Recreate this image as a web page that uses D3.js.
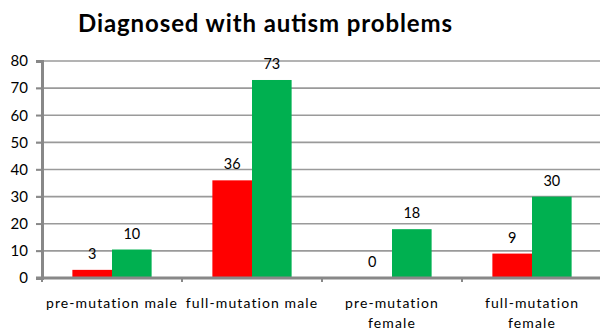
<!DOCTYPE html>
<html>
<head>
<meta charset="utf-8">
<script src="https://cdn.jsdelivr.net/npm/d3@7/dist/d3.min.js"></script>
<style>
  html, body { margin: 0; padding: 0; background: #fff; }
  svg { display: block; font-family: Lato, "Open Sans", sans-serif; }
</style>
</head>
<body>
<svg id="chart" width="600" height="332"></svg>
<script>
const title = "Diagnosed with autism problems";
const categories = ["pre-mutation male", "full-mutation male", "pre-mutation female", "full-mutation female"];
const categoryLines = [["pre-mutation male"], ["full-mutation male"], ["pre-mutation", "female"], ["full-mutation", "female"]];
const seriesRed = [3, 36, 0, 9];
const seriesGreen = [10.5, 73, 18, 30];
const labelsRed = ["3", "36", "0", "9"];
const labelsGreen = ["10", "73", "18", "30"];
const yTicks = [0, 10, 20, 30, 40, 50, 60, 70, 80];

const svg = d3.select("#chart");
const plot = { left: 42, right: 602, top: 61, bottom: 278 };

const x = d3.scaleBand().domain(categories).range([plot.left, plot.right]).paddingInner(0).paddingOuter(0);
const y = d3.scaleLinear().domain([0, 80]).range([plot.bottom, plot.top]);
const barW = x.bandwidth() * 0.283;

// title
svg.append("text")
  .attr("x", 265).attr("y", 32)
  .attr("text-anchor", "middle")
  .attr("font-size", 24).attr("font-weight", "bold")
  .attr("textLength", 374).attr("lengthAdjust", "spacing")
  .attr("fill", "#000")
  .text(title);

// gridlines
svg.append("g").selectAll("line").data(yTicks.filter(d => d > 0)).join("line")
  .attr("x1", plot.left - 6).attr("x2", 600)
  .attr("y1", d => y(d)).attr("y2", d => y(d))
  .attr("stroke", "#9a9a9a").attr("stroke-width", 1.6);

// y axis
const yAxis = svg.append("g").attr("transform", `translate(${plot.left},0)`)
  .call(d3.axisLeft(y).tickValues(yTicks).tickSize(6).tickPadding(8));
yAxis.select(".domain").attr("stroke", "#888").attr("stroke-width", 3);
yAxis.selectAll(".tick line").attr("stroke", "#888").attr("stroke-width", 1.6);
yAxis.selectAll(".tick text").attr("font-size", 15).attr("fill", "#000")
  .attr("font-family", "Lato, 'Open Sans', sans-serif");

// bars
const g = svg.append("g");
g.selectAll("rect.red").data(categories).join("rect").attr("class", "red")
  .attr("x", d => x(d) + x.bandwidth() / 2 - barW)
  .attr("width", barW)
  .attr("y", (d, i) => y(seriesRed[i]))
  .attr("height", (d, i) => y(0) - y(seriesRed[i]))
  .attr("fill", "#ff0000");
g.selectAll("rect.green").data(categories).join("rect").attr("class", "green")
  .attr("x", d => x(d) + x.bandwidth() / 2)
  .attr("width", barW)
  .attr("y", (d, i) => y(seriesGreen[i]))
  .attr("height", (d, i) => y(0) - y(seriesGreen[i]))
  .attr("fill", "#00b050");

// x axis
const xAxis = svg.append("g").attr("transform", `translate(0,${plot.bottom})`)
  .call(d3.axisBottom(x).tickSize(0).tickFormat(""));
xAxis.select(".domain").attr("stroke", "#888").attr("stroke-width", 3).attr("d", `M${plot.left - 6},0H600`);
svg.append("g").selectAll("line").data(categories).join("line")
  .attr("x1", d => x(d)).attr("x2", d => x(d))
  .attr("y1", plot.bottom).attr("y2", plot.bottom + 4)
  .attr("stroke", "#888").attr("stroke-width", 2);

// data labels
g.selectAll("text.lr").data(categories).join("text").attr("class", "lr")
  .attr("x", d => x(d) + x.bandwidth() / 2 - barW / 2)
  .attr("y", (d, i) => y(seriesRed[i]) - 11)
  .attr("text-anchor", "middle").attr("font-size", 14.5).attr("fill", "#000")
  .text((d, i) => labelsRed[i]);
g.selectAll("text.lg").data(categories).join("text").attr("class", "lg")
  .attr("x", d => x(d) + x.bandwidth() / 2 + barW / 2)
  .attr("y", (d, i) => y(seriesGreen[i]) - 11)
  .attr("text-anchor", "middle").attr("font-size", 14.5).attr("fill", "#000")
  .text((d, i) => labelsGreen[i]);

// category labels
const cl = svg.append("g").selectAll("text").data(categories).join("text")
  .attr("x", d => x(d) + x.bandwidth() / 2)
  .attr("y", 308)
  .attr("text-anchor", "middle").attr("font-size", 14).attr("fill", "#000")
  .attr("letter-spacing", 1.1);
cl.each(function(d, i) {
  const t = d3.select(this);
  categoryLines[i].forEach((line, j) => {
    t.append("tspan").attr("x", x(d) + x.bandwidth() / 2).attr("dy", j === 0 ? 0 : 20).text(line);
  });
});
</script>
</body>
</html>
